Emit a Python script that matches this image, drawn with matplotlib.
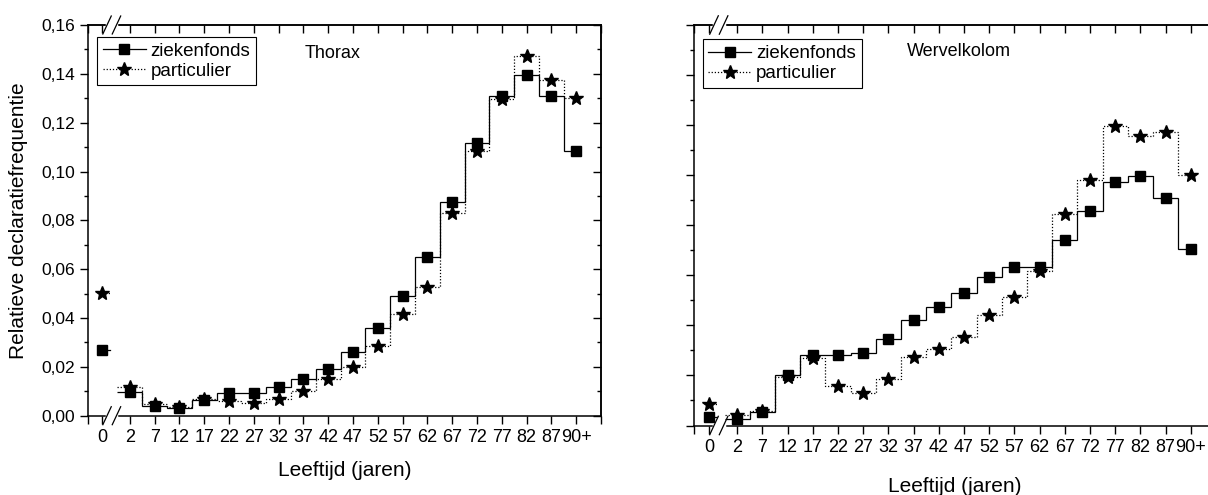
import numpy as np
import matplotlib
matplotlib.use('Agg')
import matplotlib.pyplot as plt
import matplotlib.ticker as ticker
import matplotlib.transforms as mtransforms
from matplotlib.lines import Line2D

plt.rcParams['font.family'] = ['Liberation Sans', 'DejaVu Sans']

# age groups (first one is shown apart, behind the axis break)
age_labels = ['0', '2', '7', '12', '17', '22', '27', '32', '37', '42', '47',
              '52', '57', '62', '67', '72', '77', '82', '87', '90+']

# relative declaration frequency, thorax
thorax_zf = [0.0268, 0.0099, 0.0041, 0.0030, 0.0064, 0.0091, 0.0095, 0.0117, 0.0150, 0.0190,
             0.0260, 0.0359, 0.0491, 0.0648, 0.0876, 0.1116, 0.1311, 0.1395, 0.1311, 0.1085]
thorax_pa = [0.0503, 0.0118, 0.0048, 0.0037, 0.0067, 0.0060, 0.0054, 0.0068, 0.0102, 0.0151,
             0.0199, 0.0284, 0.0418, 0.0527, 0.0830, 0.1082, 0.1295, 0.1473, 0.1374, 0.1301]

# wervelkolom (no scale printed on this panel)
wervel_zf = [0.0033, 0.0027, 0.0053, 0.0203, 0.0280, 0.0280, 0.0289, 0.0344, 0.0420, 0.0472,
             0.0528, 0.0595, 0.0633, 0.0633, 0.0741, 0.0857, 0.0971, 0.0997, 0.0909, 0.0704]
wervel_pa = [0.0084, 0.0040, 0.0056, 0.0193, 0.0269, 0.0156, 0.0131, 0.0187, 0.0273, 0.0307,
             0.0352, 0.0443, 0.0513, 0.0616, 0.0845, 0.0980, 0.1197, 0.1157, 0.1171, 0.1000]

ZERO_POS = -0.12
X_LEFT, X_RIGHT = -0.7, 20

pos = np.r_[ZERO_POS, np.arange(1, len(age_labels))]
edges = np.r_[pos[1:] - 0.5, pos[-1]]
tick_pos = np.r_[X_LEFT, pos, X_RIGHT]
tick_lab = [''] + age_labels + ['']

solid = dict(color='k', lw=0.9, ls='-')
dotted = dict(color='k', lw=0.9, ls=(0, (1, 1.5)))


def comma(v, _):
    return f'{v:.2f}'.replace('.', ',')


def draw_panel(ax, zf, pa, title, title_xy, legend_xy, ylabels):
    zf = np.asarray(zf)
    pa = np.asarray(pa)
    ax.stairs(pa[1:], edges, baseline=None, color='k', lw=0.9, ls=(0, (1, 1.5)))
    ax.stairs(zf[1:], edges, baseline=None, color='k', lw=0.9)
    # age 0 is a lone point with a short stub
    ax.plot([pos[0], pos[0] + 0.3], [pa[0], pa[0]], **dotted)
    ax.plot([pos[0], pos[0] + 0.3], [zf[0], zf[0]], **solid)
    ax.plot(pos, zf, marker='s', ms=7.2, color='k', ls='none', zorder=3)
    ax.plot(pos, pa, marker='*', ms=10.5, color='k', ls='none', zorder=3)

    ax.set_xlim(X_LEFT, X_RIGHT)
    ax.set_ylim(0, 0.16)
    ax.set_xticks(tick_pos, tick_lab)
    ax.yaxis.set_major_locator(ticker.MultipleLocator(0.02))
    ax.yaxis.set_minor_locator(ticker.MultipleLocator(0.01))
    if ylabels:
        ax.yaxis.set_major_formatter(ticker.FuncFormatter(comma))
    else:
        ax.yaxis.set_major_formatter(ticker.NullFormatter())
    ax.tick_params(axis='x', direction='out', length=5.5, width=1, labelsize=13, pad=4)
    ax.tick_params(axis='y', which='major', direction='out', length=6, width=1, labelsize=12.5, pad=3)
    ax.tick_params(axis='y', which='minor', direction='out', length=3, width=1)
    for s in ax.spines.values():
        s.set_linewidth(1.1)

    top = ax.secondary_xaxis('top')
    top.set_xticks(tick_pos)
    top.xaxis.set_major_formatter(ticker.NullFormatter())
    top.tick_params(direction='in', length=6, width=1)
    top.spines['top'].set_linewidth(1.1)
    right = ax.secondary_yaxis('right')
    right.yaxis.set_major_locator(ticker.MultipleLocator(0.02))
    right.yaxis.set_minor_locator(ticker.MultipleLocator(0.01))
    right.yaxis.set_major_formatter(ticker.NullFormatter())
    right.tick_params(which='major', direction='in', length=6, width=1)
    right.tick_params(which='minor', direction='in', length=3, width=1)
    right.spines['right'].set_linewidth(1.1)

    # axis break marks
    tr = mtransforms.blended_transform_factory(ax.transData, ax.transAxes)
    for y0 in (0, 1):
        ax.plot([ZERO_POS + 0.2, ZERO_POS + 0.58], [y0, y0], color='white', lw=2.5,
                transform=tr, clip_on=False, zorder=5)
        for cx in (ZERO_POS + 0.2, ZERO_POS + 0.58):
            ax.plot([cx - 0.17, cx + 0.17], [y0 - 0.023, y0 + 0.023], color='k', lw=0.9,
                    transform=tr, clip_on=False, zorder=6)

    ax.text(title_xy[0], title_xy[1], title, transform=ax.transAxes, fontsize=13, va='center')
    handles = [Line2D([], [], marker='s', ms=7.2, **solid),
               Line2D([], [], marker='*', ms=10.5, **dotted)]
    leg = ax.legend(handles, ['ziekenfonds', 'particulier'], loc='upper left',
                    bbox_to_anchor=legend_xy, borderaxespad=0, fontsize=13.5, fancybox=False,
                    edgecolor='k', framealpha=1, handlelength=2.3, handletextpad=0.25,
                    labelspacing=0.15, borderpad=0.3)
    leg.get_frame().set_linewidth(0.8)


fig = plt.figure(figsize=(12.08, 4.95), dpi=100)
ax1 = fig.add_axes([0.0726, 0.1602, 0.4249, 0.7893])
ax2 = fig.add_axes([0.5748, 0.1404, 0.4319, 0.8091])

draw_panel(ax1, thorax_zf, thorax_pa, 'Thorax', (0.423, 0.928), (0.018, 0.969), True)
draw_panel(ax2, wervel_zf, wervel_pa, 'Wervelkolom', (0.407, 0.933), (0.016, 0.964), False)

ax1.set_ylabel('Relatieve declaratiefrequentie', fontsize=15, labelpad=10)
ax1.set_xlabel('Leeftijd (jaren)', fontsize=15, labelpad=11)
ax2.set_xlabel('Leeftijd (jaren)', fontsize=15, labelpad=15)

fig.savefig('out.png', dpi=100)
